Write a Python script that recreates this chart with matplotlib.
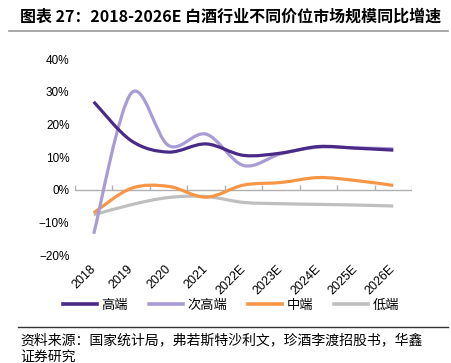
import numpy as np
import matplotlib
matplotlib.use('Agg')
import matplotlib.pyplot as plt
from matplotlib.path import Path
from matplotlib.patches import PathPatch
from matplotlib.lines import Line2D

plt.rcParams['font.family'] = ['Liberation Sans', 'Noto Sans CJK SC', 'DejaVu Sans']

years = ['2018', '2019', '2020', '2021', '2022E', '2023E', '2024E', '2025E', '2026E']
high = [26.9, 15.0, 11.5, 14.0, 10.5, 11.2, 13.2, 12.7, 12.1]
sub_high = [-13.5, 29.5, 13.5, 17.0, 7.4, 11.0, 13.0, 12.8, 12.5]
mid = [-7.1, 0.4, 1.0, -2.3, 1.4, 2.2, 3.7, 2.8, 1.3]
low = [-7.7, -4.6, -2.4, -2.1, -3.9, -4.3, -4.5, -4.7, -5.0]
names = ['高端', '次高端', '中端', '低端']
colors = ['#4a2a87', '#a99bd4', '#f79646', '#bfbfbf']


def smooth_path(xs, ys):
    # excel-like smoothed line: cubic bezier with catmull-rom control points
    pts = np.column_stack([xs, ys]).astype(float)
    n = len(pts)
    verts = [pts[0]]
    codes = [Path.MOVETO]
    for i in range(n - 1):
        p0 = pts[i - 1] if i > 0 else pts[i]
        p1 = pts[i]
        p2 = pts[i + 1]
        p3 = pts[i + 2] if i + 2 < n else pts[i + 1]
        c1 = p1 + (p2 - p0) / 6
        c2 = p2 - (p3 - p1) / 6
        verts += [c1, c2, p2]
        codes += [Path.CURVE4] * 3
    return Path(verts, codes)


fig = plt.figure(figsize=(4.51, 3.63), dpi=100)
ax = fig.add_axes([75 / 451, 1 - 255 / 363, (412 - 75) / 451, (255 - 59) / 363])

x = np.arange(len(years))
for vals, c in zip([high, sub_high, mid, low][::-1], colors[::-1]):
    ax.add_patch(PathPatch(smooth_path(x, vals), facecolor='none', edgecolor=c,
                           lw=2.3, capstyle='butt', joinstyle='round', zorder=3))

ax.set_xlim(-0.5, len(years) - 0.5)
ax.set_ylim(-20, 40)
ax.set_yticks(range(-20, 41, 10))
ax.set_yticklabels([f'{v}%'.replace('-', '\u2212') for v in range(-20, 41, 10)], fontsize=8.5)
ax.set_xticks(x)
ax.set_xticklabels(years, rotation=45, ha='right', va='center', rotation_mode='anchor', fontsize=9)
ax.tick_params(axis='both', length=0, pad=4)
ax.tick_params(axis='x', pad=9)
for s in ax.spines.values():
    s.set_visible(False)

ax.axhline(0, color='#b0b0b0', lw=1, zorder=1)
ax.vlines(np.arange(-0.5, len(years), 1), 0, 1.3, color='#b0b0b0', lw=1, zorder=1)

handles = [Line2D([], [], color=c, lw=2.6) for c in colors]
fig.legend(handles, names, loc='center', bbox_to_anchor=(231 / 451, 1 - 305 / 363), ncol=4,
           frameon=False, handlelength=2.6, handletextpad=0.3, columnspacing=1.6,
           prop={'family': 'Noto Sans CJK SC', 'size': 9.5})

fig.text(20 / 451, 1 - 17 / 363, '图表 27：2018-2026E 白酒行业不同价位市场规模同比增速',
         fontsize=11.5, fontweight='bold', family=['Noto Sans CJK SC', 'DejaVu Sans'], va='center')
fig.add_artist(Line2D([9 / 451, 448 / 451], [1 - 31 / 363] * 2, color='#999999', lw=1.2))
fig.add_artist(Line2D([18 / 451, 448 / 451], [1 - 327 / 363] * 2, color='#333333', lw=1))
fig.text(20 / 451, 1 - 340 / 363, '资料来源：国家统计局，弗若斯特沙利文，珍酒李渡招股书，华鑫',
         fontsize=10, family=['Noto Sans CJK SC', 'DejaVu Sans'], va='center')
fig.text(20 / 451, 1 - 357 / 363, '证券研究',
         fontsize=10, family=['Noto Sans CJK SC', 'DejaVu Sans'], va='center')

fig.savefig('out.png', dpi=100)
